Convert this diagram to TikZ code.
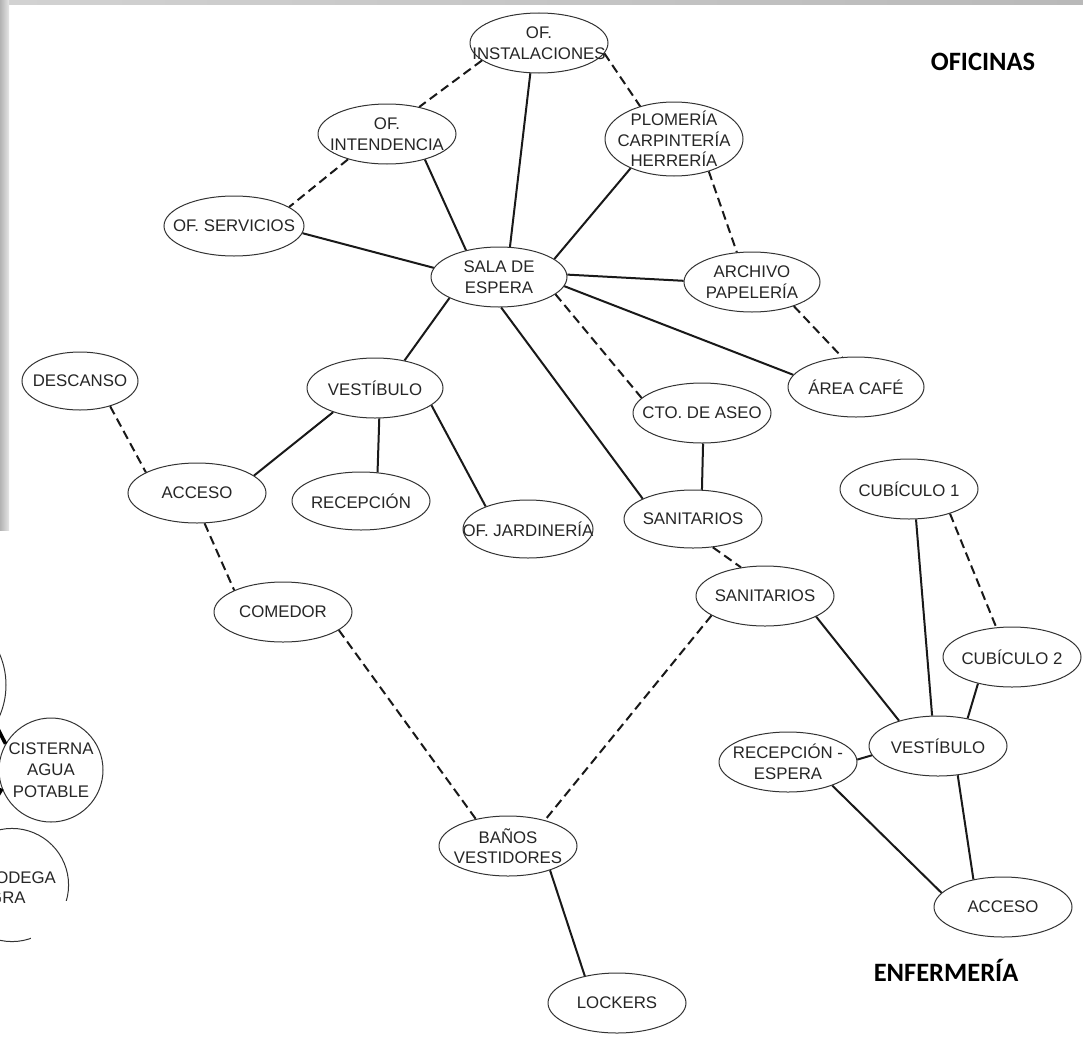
\documentclass[tikz,border=0pt]{standalone}
\usepackage{fontspec}
\setmainfont{Liberation Sans}
\newfontfamily\headfont{Carlito}
\usetikzlibrary{shapes.geometric}

\tikzset{
  room/.style={ellipse, draw=black!80, line width=1pt, fill=white,
    inner sep=-40pt, minimum width=138pt, minimum height=60pt,
    align=center, text=black!85, font=\fontsize{16.8}{20.5}\selectfont},
  roundroom/.style={circle, draw=black!80, line width=1pt, fill=white,
    inner sep=-40pt, minimum size=#1, align=center, text=black!85,
    font=\fontsize{16.8}{21.5}\selectfont},
  link/.style={line width=2pt, draw=black!90},
  weaklink/.style={link, dash pattern=on 9pt off 5pt},
  heavylink/.style={line width=3.6pt, draw=black},
  zonetitle/.style={font=\headfont\bfseries\fontsize{26.5}{30}\selectfont, text=black}
}

\begin{document}
\begin{tikzpicture}[x=1pt, y=-1pt]
  \useasboundingbox (0,0) rectangle (1083,1041);
  \fill[white] (0,0) rectangle (1083,1041);

  % grey photo border along the top and left edges
  \shade[left color=gray!35, right color=gray!55] (0,0) rectangle (1083,5);
  \shade[left color=gray!60, right color=gray!20] (0,0) rectangle (9,530);

  % ---- OFICINAS ----
  \node[room] (inst)   at (539,43)  {OF.\\INSTALACIONES};
  \node[room] (intend) at (387,134) {OF.\\INTENDENCIA};
  \node[room, minimum width=140pt] (serv) at (234,226) {OF. SERVICIOS};
  \node[room, minimum width=136pt] (sala) at (499,277) {SALA DE\\ESPERA};
  \node[room, minimum height=74pt] (plom) at (674,139) {PLOMERÍA\\CARPINTERÍA\\HERRERÍA};
  \node[room, minimum width=136pt] (arch) at (752,282) {ARCHIVO\\PAPELERÍA};
  \node[room, minimum width=136pt] (cafe) at (856,387) {ÁREA CAFÉ};
  \node[room] (cto)    at (702,413) {CTO. DE ASEO};

  % ---- servicios generales ----
  \node[room, minimum width=116pt, minimum height=58pt] (desc) at (80,381) {DESCANSO};
  \node[room, minimum width=136pt] (vest)  at (375,388) {VESTÍBULO};
  \node[room] (acc)    at (197,493) {ACCESO};
  \node[room, minimum height=58pt] (recep) at (361,501) {RECEPCIÓN};
  \node[room, minimum width=130pt, minimum height=58pt] (jard) at (528,529) {OF. JARDINERÍA};
  \node[room, minimum height=58pt] (sanA) at (693,519) {SANITARIOS};
  \node[room] (sanB)   at (765,596) {SANITARIOS};
  \node[room] (come)   at (283,612) {COMEDOR};
  \node[room] (banos)  at (508,846) {BAÑOS\\VESTIDORES};
  \node[room] (lock)   at (617,1003) {LOCKERS};

  % ---- ENFERMERÍA ----
  \node[room] (cubA)   at (909,489) {CUBÍCULO 1};
  \node[room] (cubB)   at (1012,657) {CUBÍCULO 2};
  \node[room] (vestE)  at (938,746) {VESTÍBULO};
  \node[room] (recE)   at (788,762) {RECEPCIÓN -\\ESPERA};
  \node[room] (accE)   at (1003,907) {ACCESO};

  % ---- bloque de cisternas, al borde izquierdo ----
  \node[roundroom=156pt] (pozo) at (-72,685) {};
  \node[roundroom=104pt] (cist) at (51,770) {CISTERNA\\AGUA\\POTABLE};
  \node[roundroom=96pt] (bod) at (12,885) {};
  \fill[white] (31,901) rectangle (80,945);
  \node[text=black!85, font=\fontsize{16.8}{20}\selectfont, align=center] (bodtxt) at (20,888) {BODEGA\\GRA\phantom{NO}};
  \coordinate (cin1) at (-3,727);
  \coordinate (cin2) at (-3,797);
  \draw[heavylink] (cin1) -- (cist.150);
  \draw[heavylink] (cin2) -- (cist.201);

  % ---- zone titles ----
  \node[zonetitle] (tofi) at (983,62) {OFICINAS};
  \node[zonetitle] (tenf) at (946,970) {ENFERMERÍA};

  % ---- connectors: oficinas ----
  \draw[weaklink] (inst.197) -- (intend.40);
  \draw[weaklink] (intend.213) -- (serv.19);
  \draw[link] (intend.-34) -- (sala.141);
  \draw[link] (serv.-6) -- (sala.172);
  \draw[link] (inst.-106) -- (sala.70);
  \draw[weaklink] (inst.-9) -- (plom.136);
  \draw[link] (plom.214) -- (sala.18);
  \draw[weaklink] (plom.-43) -- (arch.117);
  \draw[link] (sala.2) -- (arch.179);
  \draw[link] (sala.-8) -- (cafe.169);
  \draw[weaklink] (arch.-30) -- (cafe.115);
  \draw[weaklink] (sala.-17) -- (cto.166);

  % ---- connectors: servicios generales ----
  \draw[link] (sala.203) -- (vest.43);
  \draw[link] (sala.-86) -- (sanA.158);
  \draw[link] (cto.-88) -- (sanA.73);
  \draw[link] (vest.210) -- (acc.17);
  \draw[link] (vest.-82) -- (recep.60);
  \draw[link] (vest.-17) -- (jard.152);
  \draw[weaklink] (desc.-40) -- (acc.158);
  \draw[weaklink] (acc.-76) -- (come.156);
  \draw[weaklink] (sanA.-55) -- (sanB.130);
  \draw[weaklink] (come.-18) -- (banos.140);
  \draw[weaklink] (sanB.200) -- (banos.35);
  \draw[link] (banos.-30) -- (lock.140);

  % ---- connectors: enfermería ----
  \draw[link] (sanB.-22) -- (vestE.147);
  \draw[link] (cubA.-77) -- (vestE.101);
  \draw[weaklink] (cubA.-31) -- (cubB.118);
  \draw[link] (cubB.218) -- (vestE.43);
  \draw[link] (recE.2) -- (vestE.188);
  \draw[link] (vestE.-56) -- (accE.137);
  \draw[link] (recE.-28) -- (accE.167);
\end{tikzpicture}
\end{document}
